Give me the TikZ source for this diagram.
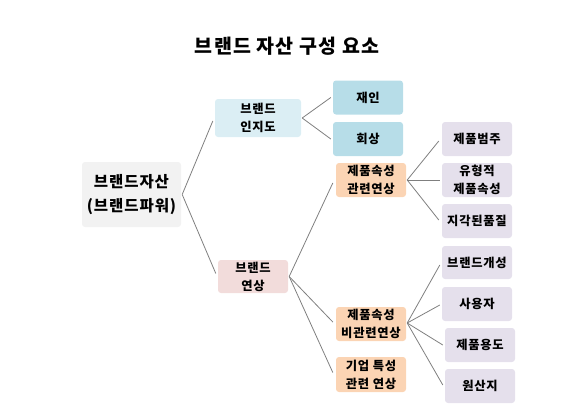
\documentclass[tikz,border=0pt]{standalone}
\usepackage{fontspec}
\setmainfont{Noto Sans CJK KR}[LetterSpace=6]
\begin{document}
\begin{tikzpicture}[x=1pt,y=-1pt,
  box/.style={rounded corners=3pt, inner sep=0pt, font=\fontsize{12.3}{18}\selectfont\bfseries, align=center, minimum width=70pt, minimum height=34pt},
  conn/.style={draw=linegray, line width=0.8pt}]
\definecolor{linegray}{HTML}{7F7F7F}
\definecolor{rootfill}{HTML}{F2F2F2}
\definecolor{injifill}{HTML}{DBEEF4}
\definecolor{yeonfill}{HTML}{F2DCDB}
\definecolor{bluefill}{HTML}{B7DDE8}
\definecolor{peachfill}{HTML}{FBD4B4}
\definecolor{lavfill}{HTML}{E5E0EC}
\useasboundingbox (0,0) rectangle (574,416);
\node[font=\fontsize{19.5}{22}\selectfont\bfseries] (title) at (287,46) {브랜드 자산 구성 요소};
\node[box, fill=rootfill, minimum width=99pt, minimum height=65pt, font=\fontsize{15.5}{24}\selectfont\bfseries] (root) at (131.5,194.5) {브랜드자산\\(브랜드파워)};
\node[box, fill=injifill, minimum width=86pt, minimum height=38pt] (inji) at (258,118) {브랜드\\인지도};
\node[box, fill=yeonfill, minimum height=33pt] (yeon) at (253,276.5) {브랜드\\연상};
\node[box, fill=bluefill] (jaein) at (368,97.5) {재인};
\node[box, fill=bluefill] (hoe) at (368,139) {회상};
\node[box, fill=peachfill] (pa) at (371,180) {제품속성\\관련연상};
\node[box, fill=peachfill] (pb) at (371,324) {제품속성\\비관련연상};
\node[box, fill=peachfill, minimum height=35pt] (pc) at (371,374.5) {기업 특성\\관련 연상};
\node[box, fill=lavfill] (l1) at (477,139) {제품범주};
\node[box, fill=lavfill] (l2) at (477,180) {유형적\\제품속성};
\node[box, fill=lavfill] (l3) at (477,221) {지각된품질};
\node[box, fill=lavfill, minimum height=33pt] (m1) at (477,262.5) {브랜드개성};
\node[box, fill=lavfill] (m2) at (477,304) {사용자};
\node[box, fill=lavfill] (m3) at (480,345) {제품용도};
\node[box, fill=lavfill] (m4) at (480,386) {원산지};
\coordinate (rs) at ([xshift=1pt]root.east);
\draw[conn] (rs) -- ([shift={(-2,3)}]inji.west);
\draw[conn] (rs) -- ([shift={(-2,-3)}]yeon.west);
\coordinate (is) at ([xshift=1pt]inji.east);
\draw[conn] (is) -- ([xshift=-2pt]jaein.west);
\draw[conn] (is) -- ([xshift=-2pt]hoe.west);
\coordinate (ys) at ([xshift=1pt]yeon.east);
\draw[conn] (ys) -- ([shift={(-3,3)}]pa.west);
\draw[conn] (ys) -- ([shift={(-3,-2)}]pb.west);
\draw[conn] (ys) -- ([shift={(-3,-2)}]pc.west);
\coordinate (as) at ([xshift=1pt]pa.east);
\draw[conn] (as) -- ([shift={(-3,2)}]l1.west);
\draw[conn] (as) -- ([xshift=-2pt]l2.west);
\draw[conn] (as) -- ([shift={(-3,-1)}]l3.west);
\coordinate (bs) at ([shift={(1,-1)}]pb.east);
\draw[conn] (bs) -- ([shift={(-2,2.5)}]m1.west);
\draw[conn] (bs) -- ([shift={(-2,1)}]m2.west);
\draw[conn] (bs) -- ([xshift=-2pt]m3.west);
\draw[conn] (bs) -- ([shift={(-2,-1)}]m4.west);
\end{tikzpicture}
\end{document}
